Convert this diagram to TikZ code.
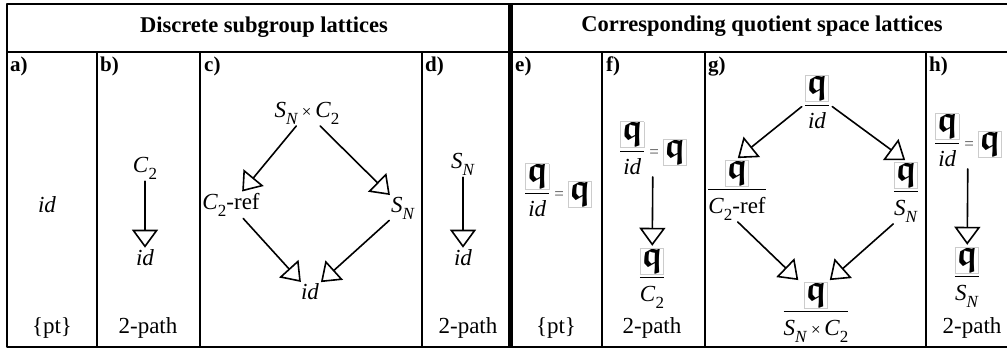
\documentclass[tikz,border=0pt]{standalone}
\usepackage{amsmath,amssymb}
\usepackage{fontspec}
\setmainfont{Liberation Serif}
\usetikzlibrary{arrows.meta}
\tikzset{
  every picture/.style={font=\fontsize{23}{27}\selectfont, line join=round, line cap=round,
    >={Triangle[open,length=18pt,width=26pt,line width=1.6pt]}},
  every node/.style={inner sep=1pt},
  grid/.style={line width=1.3pt},
  sep/.style={line width=5pt, line cap=butt},
  lat/.style={->, line width=1.6pt, shorten >=1pt, shorten <=1pt},
  lbl/.style={anchor=north west, inner sep=0pt, font=\fontsize{21}{24}\selectfont\bfseries},
}
\newcommand{\frq}{{\setlength{\fboxsep}{0.5pt}\setlength{\fboxrule}{0.6pt}\fcolorbox{black!20}{white}{\scalebox{1.6}{$\boldsymbol{\mathfrak{q}}$}}}}
\newcommand{\grp}[2]{\textit{#1}\raisebox{-0.3em}{\fontsize{17}{17}\selectfont#2}}
\newcommand{\quo}[1]{$\dfrac{\frq}{\text{#1}}$}
\newcommand{\tms}{\,{\fontsize{17}{17}\selectfont×}\,}
\newcommand{\eqs}{\,{\color{black!70}\fontsize{17}{17}\selectfont=}\,}

\begin{document}
\begin{tikzpicture}[x=1pt,y=-1pt]
\useasboundingbox (0,0) rectangle (1007,350);
% table
\draw[grid] (1007,4) -- (7,4) -- (7,347) -- (1007,347);
\draw[grid] (7,52) -- (1007,52);
\foreach \x in {97,200,422,602,705,926} \draw[grid] (\x,52) -- (\x,347);
\draw[sep] (510,4) -- (510,347);
\node[font=\fontsize{22.5}{26}\selectfont\bfseries] (hdl) at (264,27) {Discrete subgroup lattices};
\node[font=\fontsize{22.5}{26}\selectfont\bfseries] (hdr) at (762,26) {Corresponding quotient space lattices};
\foreach \l/\x in {a/10,b/100,c/204,d/425,e/515,f/606,g/708,h/929}
  \node[lbl] (lab\l) at (\x,57) {\l)};
% a)
\node (aid) at (47,205) {\textit{id}};
\node (apt) at (52,328) {\{pt\}};
% b)
\node (bC) at (145,168) {\grp{C}{2}};
\node (bid) at (145,258) {\textit{id}};
\draw[lat] (bC) -- (bid);
\node (bpth) at (148,328) {2-path};
% c)
\node (ctop) at (307,113) {\grp{S}{\textit{N}}\tms\grp{C}{2}};
\node (cref) at (231,205) {\grp{C}{2}-ref};
\node (cS) at (403,208) {\grp{S}{\textit{N}}};
\node (cid) at (310,292) {\textit{id}};
\draw[lat] (ctop) -- (cref);
\draw[lat] (ctop) -- (cS);
\draw[lat] (cref) -- (cid);
\draw[lat] (cS) -- (cid);
% d)
\node (dS) at (463,164) {\grp{S}{\textit{N}}};
\node (did) at (463,258) {\textit{id}};
\draw[lat] (dS) -- (did);
\node (dpth) at (468,328) {2-path};
% e)
\node (eeq) at (558,190) {\quo{\textit{id}}\eqs\frq};
\node (ept) at (556,328) {\{pt\}};
% f)
\node (feq) at (653,148) {\quo{\textit{id}}\eqs\frq};
\node (fC) at (652,278) {\quo{\grp{C}{2}}};
\draw[lat] (feq) -- (fC);
\node (fpth) at (652,328) {2-path};
% g)
\node (gtop) at (817,102) {\quo{\textit{id}}};
\node (gref) at (737,190) {\quo{\grp{C}{2}-ref}};
\node (gS) at (906,192) {\quo{\grp{S}{\textit{N}}}};
\node (gbot) at (816,312) {\quo{\grp{S}{\textit{N}}\tms\grp{C}{2}}};
\draw[lat] ([yshift=-4pt]gtop.west) -- (gref.north);
\draw[lat] ([yshift=-4pt]gtop.east) -- (gS.north);
\draw[lat] (gref.south) -- ([xshift=-17pt]gbot.north);
\draw[lat] ([xshift=-12pt]gS.south) -- ([xshift=13pt]gbot.north);
% h)
\node (heq) at (968,140) {\quo{\textit{id}}\eqs\frq};
\node (hS) at (967,277) {\quo{\grp{S}{\textit{N}}}};
\draw[lat] (heq) -- (hS);
\node (hpth) at (972,328) {2-path};
\end{tikzpicture}
\end{document}
